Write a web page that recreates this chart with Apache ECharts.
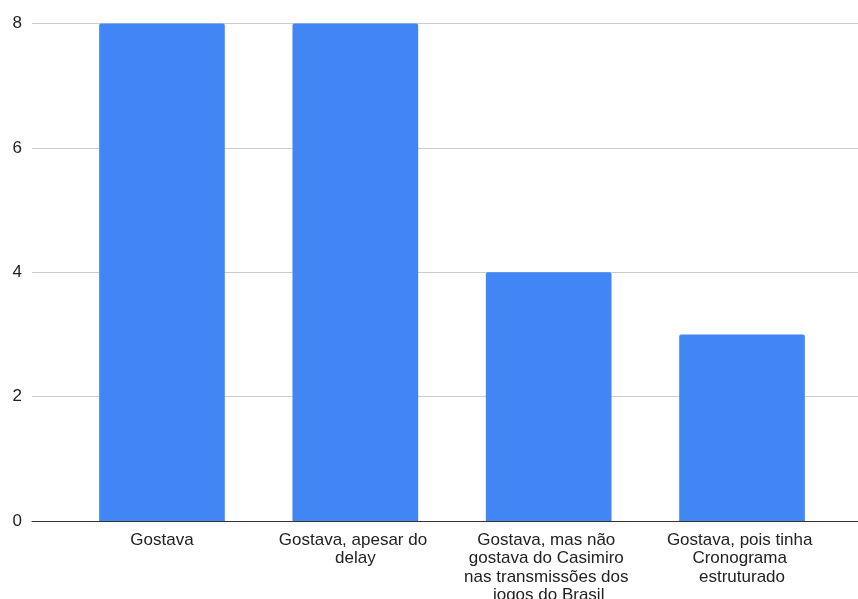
<!DOCTYPE html>
<html>
<head>
<meta charset="utf-8">
<script src="https://cdn.jsdelivr.net/npm/echarts@6/dist/echarts.min.js"></script>
<style>
  html, body { margin: 0; padding: 0; background: #fff; }
  #chart { width: 858px; height: 599px; }
</style>
</head>
<body>
<div id="chart"></div>
<script>
// Answers and how many people chose each one
const categories = [
  'Gostava',
  'Gostava, apesar do delay',
  'Gostava, mas não gostava do Casimiro nas transmissões dos jogos do Brasil',
  'Gostava, pois tinha Cronograma estruturado'
];
const counts = [8, 8, 4, 3];
const yTicks = [0, 2, 4, 6, 8];

const FONT = '"Liberation Sans", Arial, sans-serif';
const TOP = 23.5;
const BOTTOM = 78;
const yMin = yTicks[0];
const yMax = yTicks[yTicks.length - 1];
const yStep = yTicks[1] - yTicks[0];

const chart = echarts.init(document.getElementById('chart'), null, { renderer: 'canvas' });

chart.setOption({
  animation: false,
  backgroundColor: '#ffffff',
  grid: [
    // full-width grid carrying the gridlines, tick labels and baseline
    { left: 32, right: 0, top: TOP, bottom: BOTTOM, containLabel: false, outerBoundsMode: 'none' },
    // inner grid holding the bars and category labels
    { left: 65.3, right: 19.3, top: TOP, bottom: BOTTOM, containLabel: false, outerBoundsMode: 'none' }
  ],
  xAxis: [
    {
      gridIndex: 0,
      type: 'value',
      min: 0,
      max: 1,
      axisLabel: { show: false },
      axisTick: { show: false },
      splitLine: { show: false },
      axisLine: { show: true, lineStyle: { color: '#333333', width: 1 } }
    },
    {
      gridIndex: 1,
      type: 'category',
      data: categories,
      axisLine: { show: false },
      axisTick: { show: false },
      axisLabel: {
        interval: 0,
        margin: 10,
        color: '#222222',
        fontFamily: FONT,
        fontSize: 17,
        lineHeight: 18.5,
        width: 178,
        overflow: 'break',
        align: 'center'
      }
    }
  ],
  yAxis: [
    {
      gridIndex: 0,
      type: 'value',
      min: yMin,
      max: yMax,
      interval: yStep,
      axisLine: { show: false },
      axisTick: { show: false },
      axisLabel: {
        margin: 10,
        color: '#222222',
        fontFamily: FONT,
        fontSize: 17
      },
      splitLine: { show: true, lineStyle: { color: '#cccccc', width: 1 } }
    },
    {
      gridIndex: 1,
      type: 'value',
      min: yMin,
      max: yMax,
      interval: yStep,
      show: false,
      splitLine: { show: false }
    }
  ],
  series: [
    {
      type: 'bar',
      xAxisIndex: 1,
      yAxisIndex: 1,
      data: counts,
      barWidth: '65%',
      itemStyle: { color: '#4285f4', borderRadius: [2, 2, 0, 0] },
      z: 1
    }
  ]
});
</script>
</body>
</html>
